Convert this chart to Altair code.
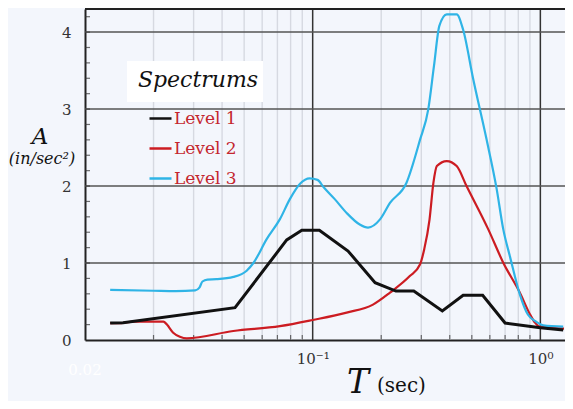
import altair as alt
import pandas as pd

# ---- data ----
series_names = ["Level 1", "Level 2", "Level 3"]

T1 = [0.0129, 0.0147, 0.0456, 0.0769, 0.0896, 0.107, 0.143, 0.188, 0.232, 0.278,
      0.371, 0.458, 0.558, 0.70, 1.0, 1.26]
A1 = [0.22, 0.225, 0.42, 1.30, 1.425, 1.425, 1.156, 0.745, 0.635, 0.635,
      0.377, 0.58, 0.58, 0.22, 0.16, 0.13]

T2 = [0.0129, 0.0145, 0.0163, 0.0221, 0.0229, 0.0244, 0.0261, 0.028, 0.0448, 0.0718,
      0.1, 0.141, 0.184, 0.2185, 0.267, 0.296, 0.309, 0.326, 0.339, 0.351,
      0.388, 0.429, 0.474, 0.59, 0.687, 0.813, 0.90, 0.947, 0.99, 1.1, 1.27]
A2 = [0.22, 0.22, 0.24, 0.24, 0.20, 0.095, 0.043, 0.022, 0.117, 0.18,
      0.26, 0.356, 0.46, 0.615, 0.83, 0.98, 1.18, 1.565, 2.04, 2.26,
      2.325, 2.26, 2.0, 1.44, 1.005, 0.615, 0.334, 0.226, 0.174, 0.16, 0.148]

T3 = [0.0129, 0.02, 0.025, 0.0305, 0.0318, 0.0328, 0.0345, 0.0378, 0.0449, 0.0513,
      0.0549, 0.0628, 0.0718, 0.0794, 0.088, 0.097, 0.105, 0.112, 0.125, 0.141,
      0.161, 0.175, 0.198, 0.2185, 0.258, 0.296, 0.322, 0.341, 0.36, 0.388,
      0.429, 0.458, 0.507, 0.58, 0.643, 0.687, 0.736, 0.813, 0.88, 0.947, 1.03, 1.26]
A3 = [0.65, 0.64, 0.635, 0.645, 0.68, 0.76, 0.785, 0.79, 0.82, 0.90,
      1.0, 1.31, 1.57, 1.83, 2.03, 2.10, 2.08, 1.98, 1.83, 1.65,
      1.50, 1.46, 1.57, 1.78, 2.04, 2.6, 3.0, 3.56, 4.08, 4.23,
      4.23, 4.03, 3.39, 2.61, 1.96, 1.44, 1.08, 0.59, 0.334, 0.247, 0.19, 0.174]

x_minor_grid = [0.02, 0.03, 0.04, 0.05, 0.06, 0.07, 0.08, 0.09,
                0.2, 0.3, 0.4, 0.5, 0.6, 0.7, 0.8, 0.9]
x_major_grid = [0.1, 1.0]
y_major_grid = [1, 2, 3, 4]
y_minor_ticks = [round(0.2 * i, 1) for i in range(1, 22)]
y_tick_labels = [0, 1, 2, 3, 4]
x_tick_labels = [0.1, 1.0]

# ---- styling ----
BG = "#f3f6fc"
SERIF = "DejaVu Serif"
W, H = 480, 331

df = pd.concat([
    pd.DataFrame({"T": T1, "A": A1, "series": series_names[0]}),
    pd.DataFrame({"T": T2, "A": A2, "series": series_names[1]}),
    pd.DataFrame({"T": T3, "A": A3, "series": series_names[2]}),
])

xscale = alt.Scale(type="log", domain=[0.01, 1.283], nice=False)
yscale = alt.Scale(domain=[0, 4.3], nice=False, zero=False)

color = alt.Color(
    "series:N",
    scale=alt.Scale(domain=series_names, range=["#111111", "#cc1c22", "#2fb4e6"]),
    legend=alt.Legend(
        orient="none", legendX=63, legendY=97, title=None,
        symbolType="stroke", symbolSize=484, symbolStrokeWidth=2.5,
        labelColor="#c4262e", labelFont=SERIF, labelFontSize=17,
        labelOffset=1, rowPadding=9, padding=0,
    ),
)

minor_v = alt.Chart(pd.DataFrame({"T": x_minor_grid})).mark_rule(
    color="#d6d9e1", strokeWidth=1.4).encode(x=alt.X("T:Q", scale=xscale))
major_v = alt.Chart(pd.DataFrame({"T": x_major_grid})).mark_rule(
    color="#333333", strokeWidth=1.5).encode(x=alt.X("T:Q", scale=xscale))
major_h = alt.Chart(pd.DataFrame({"A": y_major_grid})).mark_rule(
    color="#555555", strokeWidth=1.5).encode(y=alt.Y("A:Q", scale=yscale))
top_line = alt.Chart(pd.DataFrame({"A": [4.3]})).mark_rule(
    color="#222222", strokeWidth=2).encode(y=alt.Y("A:Q", scale=yscale))

y_ticks = alt.Chart(pd.DataFrame({"A": y_minor_ticks})).mark_tick(
    color="#333333", thickness=1.2, size=5).encode(
    y=alt.Y("A:Q", scale=yscale), x=alt.value(2.5))
x_ticks = alt.Chart(pd.DataFrame({"T": x_minor_grid})).mark_tick(
    color="#333333", thickness=1.2, size=5).encode(
    x=alt.X("T:Q", scale=xscale), y=alt.value(H - 2.5))

title_box = alt.Chart(pd.DataFrame({"t": ["Spectrums"]})).mark_rect(
    fill="white").encode(x=alt.value(42), x2=alt.value(178), y=alt.value(52), y2=alt.value(93))
title_text = alt.Chart(pd.DataFrame({"t": ["Spectrums"]})).mark_text(
    font=SERIF, fontStyle="italic", fontSize=22, color="#111111",
    align="center", baseline="middle").encode(
    text="t:N", x=alt.value(113), y=alt.value(71))

lines_black = alt.Chart(df).transform_filter(
    alt.datum.series == "Level 1").mark_line(strokeWidth=3).encode(
    x=alt.X("T:Q", scale=xscale,
            axis=alt.Axis(values=x_tick_labels, grid=False, ticks=False,
                          labelExpr="datum.value >= 0.5 ? '10⁰' : '10⁻¹'",
                          domainColor="#222222", domainWidth=2,
                          labelFont=SERIF, labelFontSize=15, labelColor="#333333",
                          labelPadding=11, title=None)),
    y=alt.Y("A:Q", scale=yscale,
            axis=alt.Axis(values=y_tick_labels, grid=False, ticks=False, format="d",
                          domainColor="#222222", domainWidth=2,
                          labelFont=SERIF, labelFontSize=15, labelColor="#333333",
                          labelPadding=14, title=None)),
    color=color,
)
lines_smooth = alt.Chart(df).transform_filter(
    alt.datum.series != "Level 1").mark_line(strokeWidth=2.2, interpolate="monotone").encode(
    x=alt.X("T:Q", scale=xscale), y=alt.Y("A:Q", scale=yscale), color=color)

# axis titles and faint label
def label(txt, x, y, size, style="normal", col="#111111", align="center"):
    return alt.Chart(pd.DataFrame({"t": [txt]})).mark_text(
        font=SERIF, fontStyle=style, fontSize=size, color=col,
        align=align, baseline="alphabetic").encode(
        text="t:N", x=alt.value(x), y=alt.value(y))

labels = [
    label("A", -45, 135, 23, "italic"),
    label("(in/sec²)", -43, 155, 16, "italic"),
    label("T", 273, 384, 33, "italic"),
    label("(sec)", 292, 383, 20, "normal", align="left"),
    label("0.02", 0, 366, 15, "normal", col="#ffffff"),
]

chart = alt.layer(
    minor_v, major_v, major_h, top_line, y_ticks, x_ticks,
    title_box, title_text, lines_smooth, lines_black, *labels,
).properties(
    width=W, height=H,
    autosize=alt.AutoSizeParams(type="none"),
    padding={"left": 77, "top": 1, "right": 0, "bottom": 61},
    background=BG,
).configure_view(stroke="transparent", fill=BG)

chart.save("out.html", embed_options={"renderer": "svg", "actions": False})
